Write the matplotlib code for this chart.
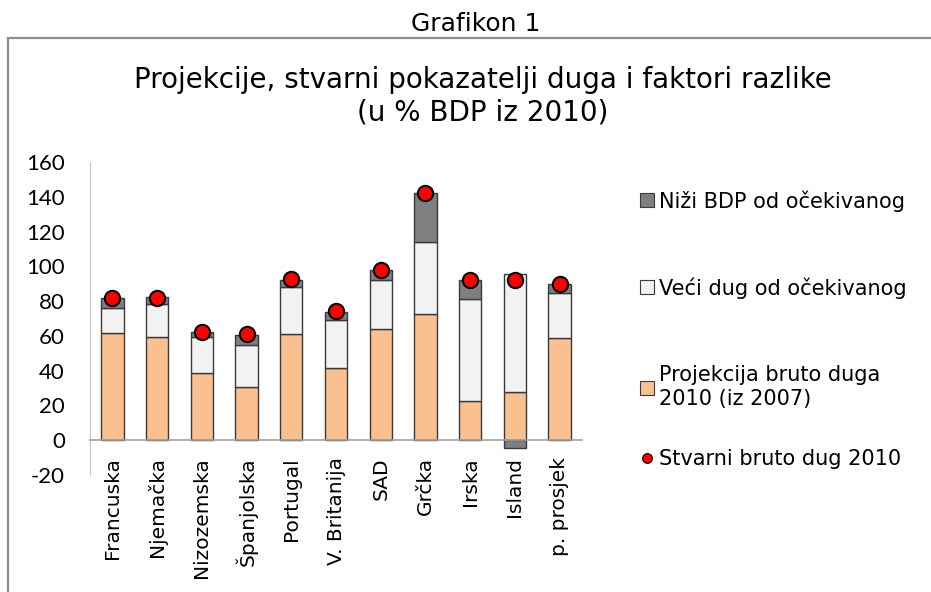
import numpy as np
import matplotlib.pyplot as plt
from matplotlib.patches import Rectangle

# values (% of 2010 GDP)
countries = ["Francuska", "Njemačka", "Nizozemska", "Španjolska", "Portugal",
             "V. Britanija", "SAD", "Grčka", "Irska", "Island", "p. prosjek"]
projekcija = [61.6, 59.5, 38.7, 30.7, 61.0, 41.8, 63.7, 72.5, 22.6, 27.8, 58.7]
veci_dug = [14.7, 18.8, 20.8, 23.8, 27.2, 27.6, 28.7, 41.6, 58.9, 67.7, 25.7]
nizi_bdp = [5.4, 3.8, 2.6, 6.1, 4.2, 4.6, 5.4, 28.0, 10.6, -4.2, 5.4]
stvarni = [82.0, 82.0, 62.0, 61.0, 92.5, 74.4, 98.0, 142.0, 92.0, 92.0, 89.8]
yticks = [-20, 0, 20, 40, 60, 80, 100, 120, 140, 160]

c_orange = "#FAC08F"
c_light = "#F2F2F2"
c_dark = "#7F7F7F"
edge = "#3a3a3a"

fig = plt.figure(figsize=(9.31, 5.92), dpi=100)
fig.patch.set_facecolor("white")

# outer frame of the chart object
fig.patches.append(Rectangle((8 / 931, -0.05), 1.1, 1 - 38 / 592 + 0.05,
                             transform=fig.transFigure, fill=False,
                             edgecolor="#8c8c8c", linewidth=1.6))

fig.text(476 / 931, 1 - 24 / 592, "Grafikon 1", ha="center", va="center",
         fontsize=18, family="DejaVu Sans")
fig.text(483 / 931, 1 - 96 / 592,
         "Projekcije, stvarni pokazatelji duga i faktori razlike\n(u % BDP iz 2010)",
         ha="center", va="center", fontsize=20, family="DejaVu Sans",
         linespacing=1.2)

ax = fig.add_axes([90 / 931, 1 - 475 / 592, 492 / 931, 313 / 592])
x = np.arange(len(countries))
proj = np.array(projekcija)
veci = np.array(veci_dug)
nizi = np.array(nizi_bdp)
w = 0.5

b1 = ax.bar(x, proj, w, color=c_orange, edgecolor=edge, linewidth=1)
b2 = ax.bar(x, veci, w, bottom=proj, color=c_light, edgecolor=edge, linewidth=1)
nizi_bottom = np.where(nizi >= 0, proj + veci, 0)
b3 = ax.bar(x, nizi, w, bottom=nizi_bottom, color=c_dark, edgecolor=edge,
            linewidth=1)
pts, = ax.plot(x, stvarni, "o", color="red", markeredgecolor="black",
               markersize=11, markeredgewidth=1.5, linestyle="none")

for s in ["top", "right"]:
    ax.spines[s].set_visible(False)
ax.spines["left"].set_color("#c8c8c8")
ax.spines["bottom"].set_position(("data", 0))
ax.spines["bottom"].set_color("#a0a0a0")
ax.spines["bottom"].set_linewidth(1.2)

ax.set_xlim(-0.5, len(countries) - 0.5)
ax.set_ylim(-20, 160)
ax.set_yticks(yticks)
ax.set_yticklabels([str(t) for t in yticks], family="Lato", fontsize=16)
ax.tick_params(axis="y", length=0, pad=18)
ax.set_xticks(x)
ax.set_xticklabels(countries, rotation=90, fontsize=14.5, family="DejaVu Sans",
                   ha="center", va="top")
ax.tick_params(axis="x", length=0, pad=12)

# legend entries placed one by one, as in the original
entries = [(b3, "Niži BDP od očekivanog", 201),
           (b2, "Veći dug od očekivanog", 288),
           (b1, "Projekcija bruto duga\n2010 (iz 2007)", 387),
           (pts, "Stvarni bruto dug 2010", 459)]
for handle, text, ypix in entries:
    leg = fig.legend([handle], [text], loc="center left",
                     bbox_to_anchor=(640 / 931, 1 - ypix / 592),
                     frameon=False, handlelength=0.65, handleheight=0.65,
                     handletextpad=0.25, borderpad=0, borderaxespad=0,
                     prop={"family": "DejaVu Sans", "size": 15})
    h = leg.legend_handles[0]
    if handle is pts:
        h.set_markersize(7)
        h.set_markeredgewidth(0.8)
    else:
        h.set_linewidth(0.8)

fig.savefig("out.png", dpi=100)
